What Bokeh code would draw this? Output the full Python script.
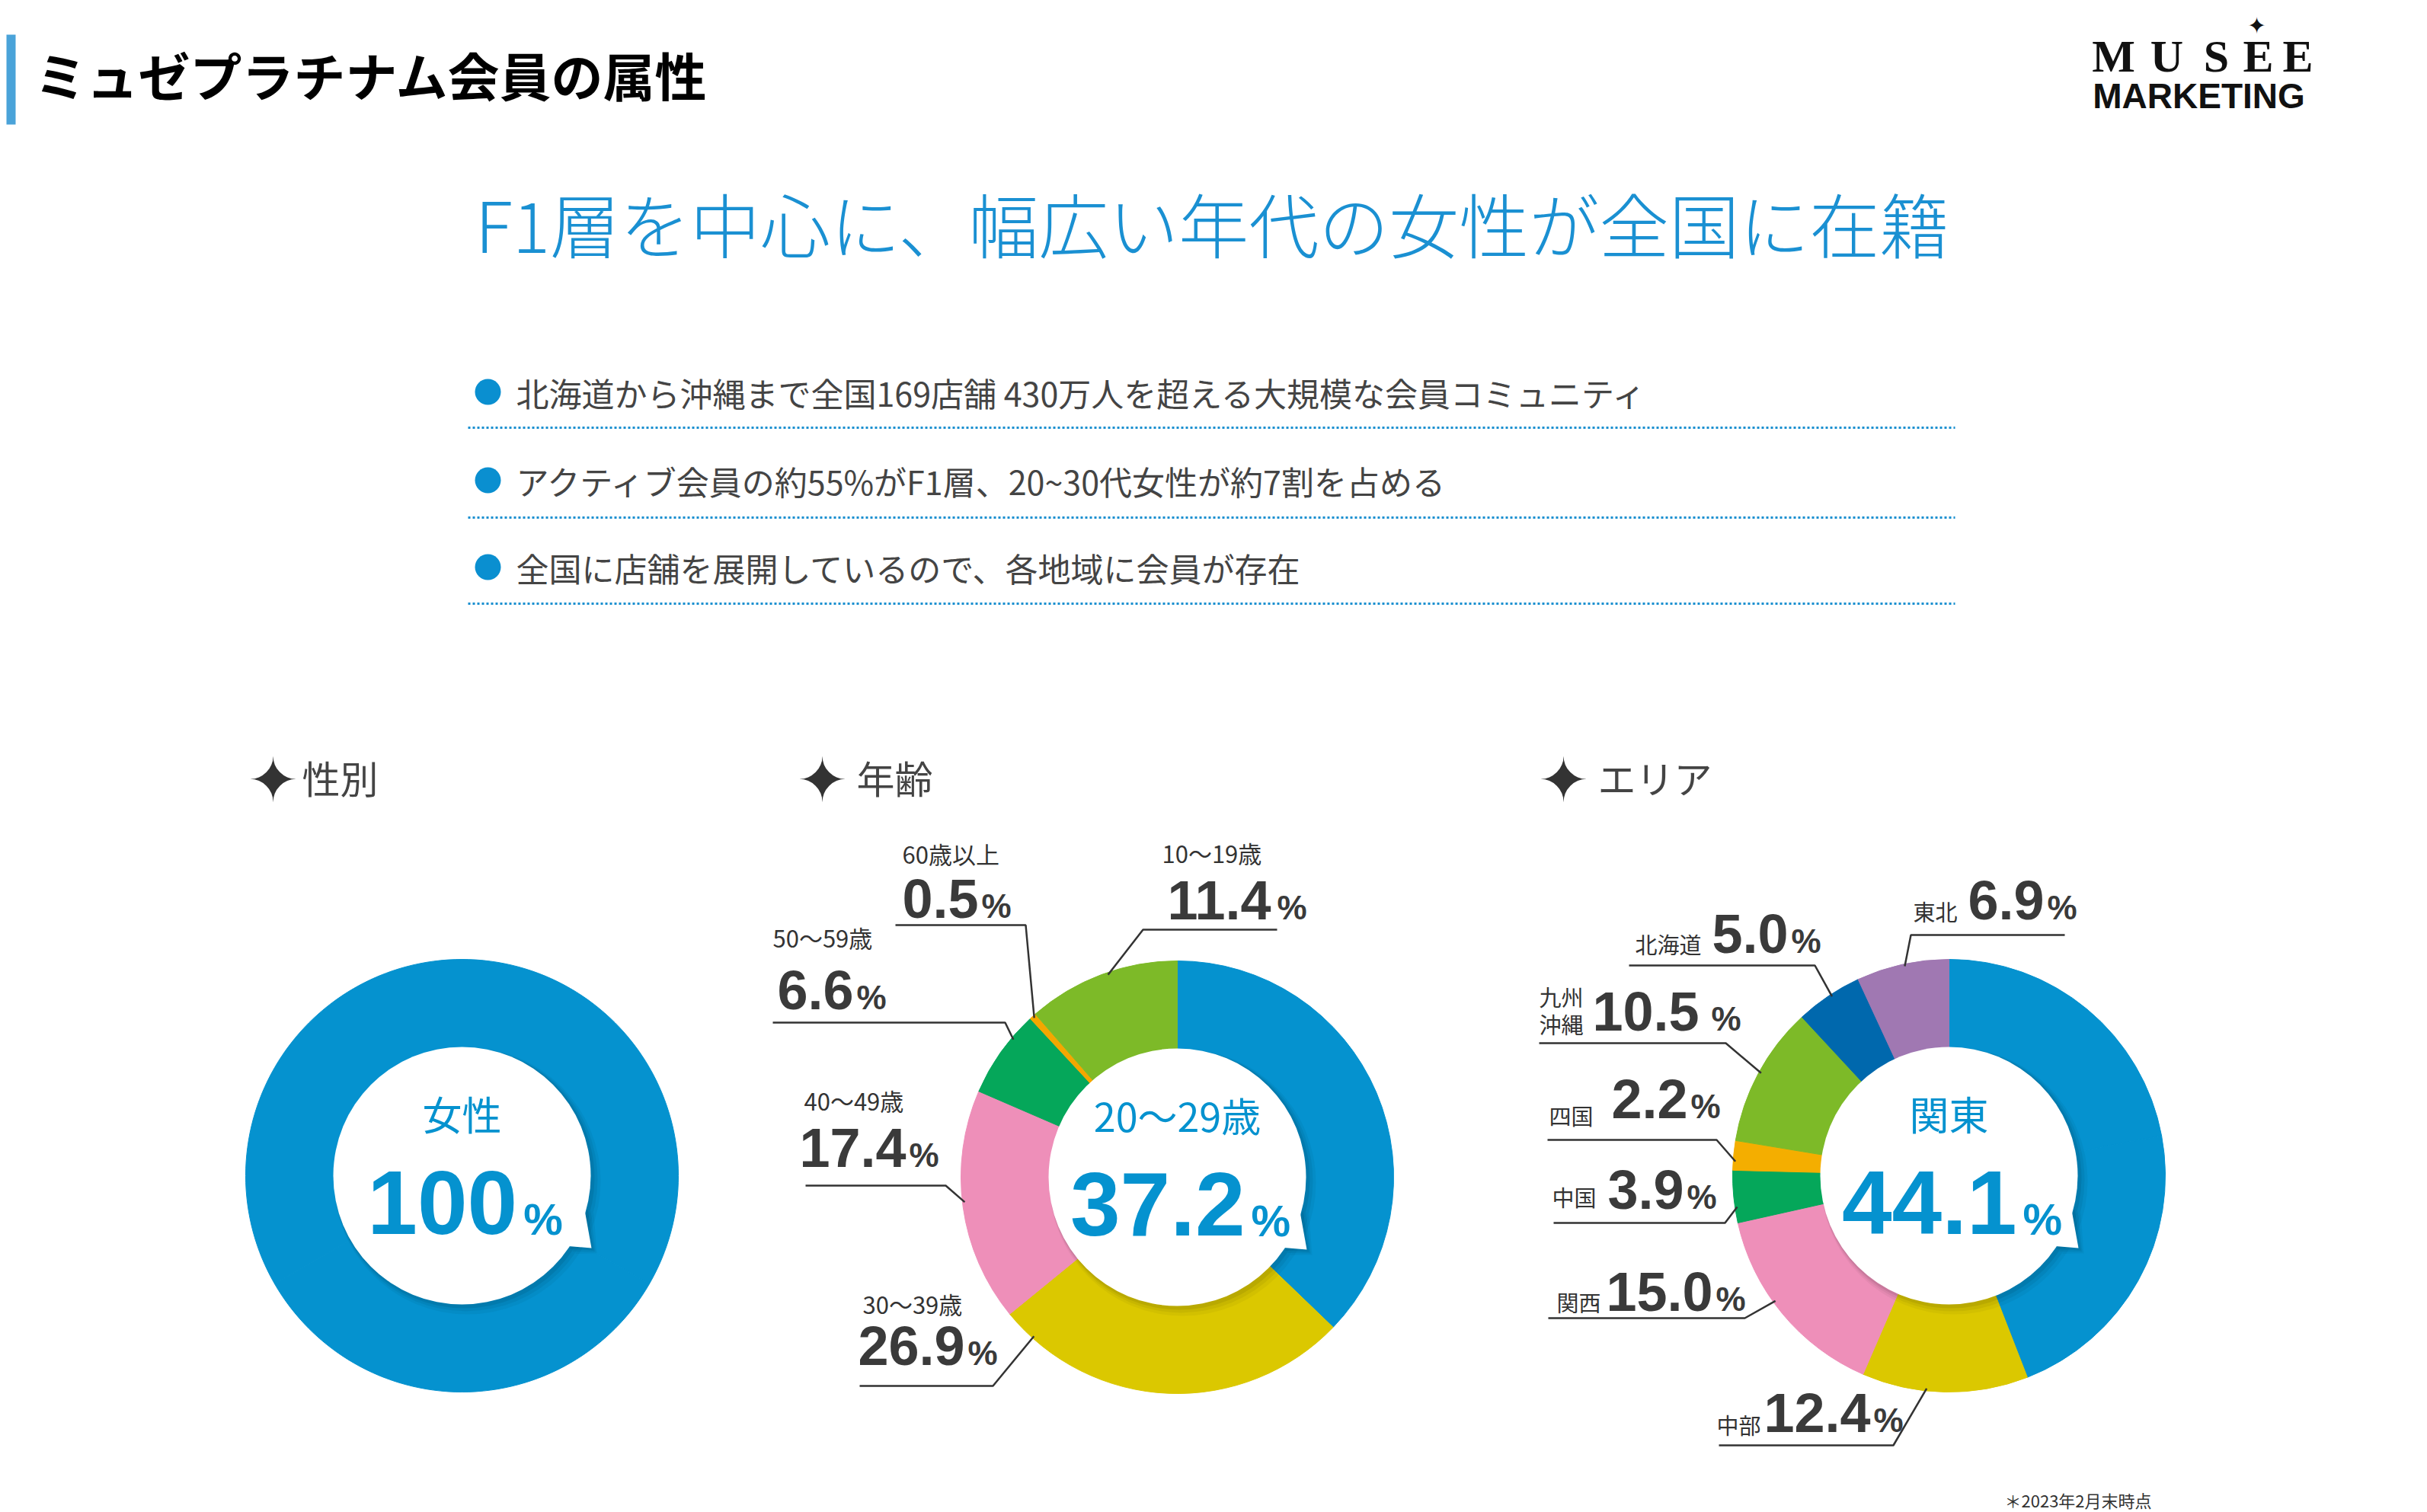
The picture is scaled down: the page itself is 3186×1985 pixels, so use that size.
import math
from bokeh.plotting import figure
from bokeh.models import Range1d, ColumnDataSource
from bokeh.core.properties import value
from bokeh.embed import file_html
from bokeh.resources import INLINE

# ------------------------------------------------------------------ data
page_title = "ミュゼプラチナム会員の属性"
headline = "F1層を中心に、幅広い年代の女性が全国に在籍"
bullets = [
    "北海道から沖縄まで全国169店舗 430万人を超える大規模な会員コミュニティ",
    "アクティブ会員の約55%がF1層、20~30代女性が約7割を占める",
    "全国に店舗を展開しているので、各地域に会員が存在",
]
section_titles = ["性別", "年齢", "エリア"]

gender_labels = ["女性"]
gender_values = [100]

age_labels = ["20〜29歳", "30〜39歳", "40〜49歳", "50〜59歳", "60歳以上", "10〜19歳"]
age_values = [37.2, 26.9, 17.4, 6.6, 0.5, 11.4]

area_labels = ["関東", "中部", "関西", "中国", "四国", "九州沖縄", "北海道", "東北"]
area_values = [44.1, 12.4, 15.0, 3.9, 2.2, 10.5, 5.0, 6.9]

footnote = "＊2023年2月末時点"

# ------------------------------------------------------------------ styles / layout
W, H = 3186, 1985
JP = "Noto Sans CJK JP"
JP_LIGHT = "Noto Sans CJK JP Light, Noto Sans CJK JP"
NUM = "Liberation Sans"
BLUE = "#0592cf"
TXT = "#3a3a3a"

gender_colors = [BLUE]
age_colors = [BLUE, "#dbc800", "#ee8fb9", "#05a75a", "#f4a700", "#7dba28"]
area_colors = [BLUE, "#dbc800", "#ee8fb9", "#05a75a", "#f4ae00", "#7dba28", "#0068ad", "#a078b2"]

R_OUT, R_IN, R_HOLE = 284, 166, 169

# label layout (image pixel coords, y downwards)
# name: (left, middle)  num: (left, baseline)  line: (x_far, x_elbow, y)  t: position in slice
age_layout = {
    "10〜19歳": dict(name=[(1525, 1119)], num=(1532, 1207), line=(1676, 1500, 1220), t=0.54),
    "60歳以上": dict(name=[(1184, 1120)], num=(1184, 1205), line=(1175, 1346, 1214), t=0.5),
    "50〜59歳": dict(name=[(1014, 1230)], num=(1020, 1325), line=(1014, 1319, 1342), t=0.7),
    "40〜49歳": dict(name=[(1055, 1444)], num=(1049, 1532), line=(1057, 1241, 1556), t=0.52),
    "30〜39歳": dict(name=[(1132, 1711)], num=(1126, 1792), line=(1128, 1303, 1819), t=0.91),
}
area_layout = {
    "東北": dict(name=[(2511, 1195)], num=(2583, 1207), line=(2710, 2508, 1227), t=0.52),
    "北海道": dict(name=[(2146, 1238)], num=(2247, 1251), line=(2138, 2382, 1267), t=0.54),
    "九州沖縄": dict(name=[(2020, 1307), (2020, 1343)], num=(2090, 1353), line=(2020, 2265, 1369), t=0.51, gap=16),
    "四国": dict(name=[(2033, 1463)], num=(2115, 1468), line=(2031, 2253, 1496), t=0.3),
    "中国": dict(name=[(2037, 1570)], num=(2110, 1587), line=(2039, 2264, 1605), t=0.3),
    "関西": dict(name=[(2043, 1708)], num=(2108, 1721), line=(2032, 2290, 1730), t=0.57),
    "中部": dict(name=[(2253, 1869)], num=(2315, 1880), line=(2256, 2485, 1897), t=0.61),
}


def Y(v):
    return H - v


p = figure(width=W, height=H, x_range=Range1d(0, W), y_range=Range1d(0, H),
           output_backend="svg", toolbar_location=None, min_border=0,
           x_axis_location=None, y_axis_location=None)
p.grid.visible = False
p.outline_line_color = None
p.background_fill_color = "white"
p.border_fill_color = "white"


def txt(x, y, s, size, color=TXT, font=JP, style="normal", align="left", baseline="middle"):
    p.text(x=[x], y=[Y(y)], text=[s], text_font=value(font),
           text_font_size=value(f"{size}px"), text_color=color,
           text_font_style=style, text_align=align, text_baseline=baseline)


def adv(s, size):
    w = 0.0
    for c in s:
        w += 0.556 if c.isdigit() else (0.889 if c == "%" else 0.278)
    return w * size


def number(x, base, s, size, pct_size, color=TXT, gap=4):
    # place by ink centre (digits / % sit on a common baseline)
    txt(x, base - 0.358 * size, s, size, color, NUM, "bold", "left", "middle")
    txt(x + adv(s, size) + gap, base - 0.36 * pct_size, "%", pct_size, color, NUM, "bold", "left", "middle")


# ------------------------------------------------------------------ header
p.quad(left=[8], right=[20], top=[Y(45)], bottom=[Y(163)], fill_color="#4aa3d9", line_color=None)
txt(45, 97, page_title, 68, "#000000", JP, "bold")

# logo
for ch, cx in zip("MUSEE", [2774, 2844, 2909, 2964, 3016]):
    txt(cx, 73, ch, 60, "#111111", "Liberation Serif", "bold", "center", "middle")
txt(2962, 33, "✦", 30, "#111111", "DejaVu Sans", "normal", "center", "middle")
txt(2886, 125, "MARKETING", 46, "#111111", NUM, "bold", "center", "middle")

txt(1591, 291, headline, 92, "#1a90d2", JP_LIGHT, "normal", "center")

# bullets
for s, yy, ly in zip(bullets, [514, 630, 744], [561, 679, 792]):
    p.circle(x=[640], y=[Y(yy)], radius=17, fill_color="#0a8fd0", line_color=None)
    txt(677, yy, s, 43, "#444444")
    p.line(x=[614, 2566], y=[Y(ly), Y(ly)], line_color="#1a8fd0", line_width=3, line_dash="3 3")

# section headings
for s, sx, tx in zip(section_titles, [358, 1079, 2052], [396, 1124, 2097]):
    txt(sx, 1024, "✦", 80, "#333333", "DejaVu Sans", "normal", "center", "middle")
    txt(tx, 1019, s, 50, "#444444")


# ------------------------------------------------------------------ donuts
def slice_fracs(values):
    total = float(sum(values))
    out, cum = [], 0.0
    for v in values:
        out.append((cum / total, (cum + v) / total))
        cum += v
    return out


def donut(cx, cy, values, colors):
    xs, ys, ss, es, cs = [], [], [], [], []
    for (f0, f1), c in zip(slice_fracs(values), colors):
        n = max(1, math.ceil((f1 - f0) / 0.4))
        for k in range(n):
            a = f0 + (f1 - f0) * k / n
            b = f0 + (f1 - f0) * (k + 1) / n
            xs.append(cx)
            ys.append(Y(cy))
            ss.append(math.pi / 2 - 2 * math.pi * b)
            es.append(math.pi / 2 - 2 * math.pi * a)
            cs.append(c)
    src = ColumnDataSource(dict(x=xs, y=ys, s=ss, e=es, c=cs))
    p.annular_wedge(x="x", y="y", inner_radius=R_IN, outer_radius=R_OUT,
                    start_angle="s", end_angle="e", fill_color="c", line_color="c",
                    line_width=1, source=src)

    def tail(ox, oy, r):
        a1, a2 = math.radians(-14), math.radians(-34)
        return ([cx + ox + r * math.cos(a1), cx + ox + 170, cx + ox + r * math.cos(a2)],
                [Y(cy) + oy + r * math.sin(a1), Y(cy) + oy - 95, Y(cy) + oy + r * math.sin(a2)])
    for off, rr, al in [(7, 175, 0.04), (5, 173, 0.05), (3, 171, 0.07)]:
        p.circle(x=[cx + off], y=[Y(cy) - off], radius=rr, fill_color="black", fill_alpha=al, line_color=None)
        tx_, ty_ = tail(off, -off, rr - 4)
        p.patch(tx_, ty_, fill_color="black", fill_alpha=al, line_color=None)
    p.circle(x=[cx], y=[Y(cy)], radius=R_HOLE, fill_color="white", line_color=None)
    tx_, ty_ = tail(0, 0, R_HOLE - 4)
    p.patch(tx_, ty_, fill_color="white", line_color=None)


def ring_point(cx, cy, frac, r):
    ang = math.pi / 2 - 2 * math.pi * frac
    return cx + r * math.cos(ang), Y(cy) + r * math.sin(ang)


def centre_text(cx, cy, name, val, fmt):
    txt(cx, cy - 82, name, 52, BLUE, JP, "normal", "center")
    s = fmt.format(val)
    size, psize, gap = 118, 58, 8
    total = adv(s, size) + gap + adv("%", psize)
    left = cx + 4 - total / 2
    number(left, cy + 78, s, size, psize, BLUE, gap)


def outer_labels(cx, cy, labels, values, layout, name_size):
    fr = slice_fracs(values)
    for lab, v, (f0, f1) in zip(labels, values, fr):
        if lab not in layout:
            continue
        L = layout[lab]
        names = [lab] if len(L["name"]) == 1 else [lab[:2], lab[2:]]
        for nm, (nx, ny) in zip(names, L["name"]):
            txt(nx, ny, nm, name_size, "#333333")
        number(L["num"][0], L["num"][1], "{:.1f}".format(v), 72, 44, TXT, L.get("gap", 4))
        xf, xe, ly = L["line"]
        px, py = ring_point(cx, cy, f0 + L["t"] * (f1 - f0), R_OUT - 3)
        p.line(x=[xf, xe, px], y=[Y(ly), Y(ly), py], line_color="#333333", line_width=2.5)


# gender
donut(606, 1543, gender_values, gender_colors)
centre_text(606, 1543, gender_labels[0], gender_values[0], "{:.0f}")

# age
donut(1545, 1545, age_values, age_colors)
centre_text(1545, 1545, age_labels[0], age_values[0], "{:.1f}")
outer_labels(1545, 1545, age_labels, age_values, age_layout, 31)

# area
donut(2558, 1543, area_values, area_colors)
centre_text(2558, 1543, area_labels[0], area_values[0], "{:.1f}")
outer_labels(2558, 1543, area_labels, area_values, area_layout, 29)

txt(2631, 1968, footnote, 22, "#333333")

open("out.html", "w").write(file_html(p, INLINE))
